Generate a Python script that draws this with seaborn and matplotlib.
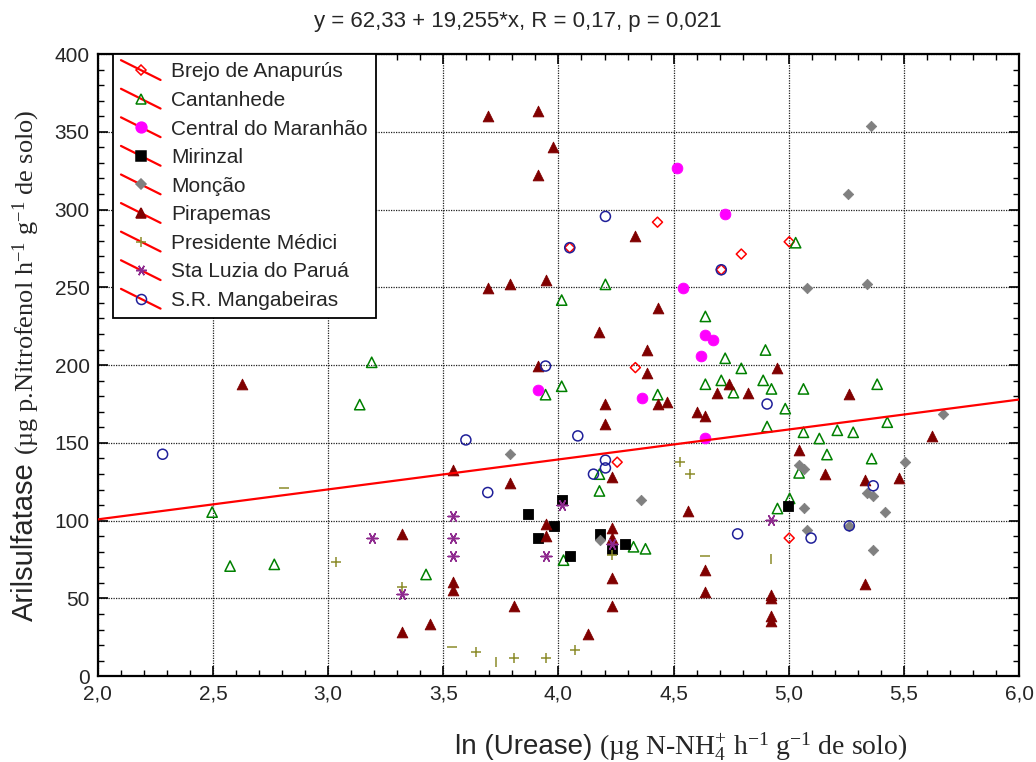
import numpy as np
import pandas as pd
import matplotlib
matplotlib.use("Agg")
import matplotlib.pyplot as plt
from matplotlib import font_manager
from matplotlib.lines import Line2D
from matplotlib.legend_handler import HandlerBase
from matplotlib.ticker import MultipleLocator, FuncFormatter
import seaborn as sns

# ---------------- data: ln(urease) vs arylsulfatase, by municipality ----------------
brejo_x = [4.049, 4.430, 4.334, 4.255, 4.707, 4.794, 5.002, 5.002]
brejo_y = [275.5, 291.9, 198.4, 137.6, 261.3, 271.4, 279.3, 88.8]

cantanhede_x = [2.496, 2.574, 2.766, 3.137, 3.189, 3.425, 3.944, 4.014, 4.014, 4.022,
                4.178, 4.178, 4.204, 4.326, 4.378, 4.431, 4.638, 4.638, 4.707, 4.724,
                4.760, 4.794, 4.889, 4.899, 4.906, 4.925, 4.951, 4.985, 5.004, 5.030,
                5.045, 5.064, 5.064, 5.133, 5.166, 5.211, 5.280, 5.360, 5.384, 5.428]
cantanhede_y = [105.5, 70.8, 71.9, 174.6, 201.8, 65.4, 181.0, 241.8, 186.4, 74.6,
                129.9, 119.1, 251.9, 83.2, 81.9, 181.0, 231.3, 187.7, 190.2, 204.4,
                182.3, 197.9, 190.2, 209.7, 160.5, 184.7, 107.8, 172.0, 114.3, 278.7,
                130.7, 184.7, 156.8, 152.8, 142.5, 158.1, 156.8, 139.9, 187.7, 163.3]

central_x = [3.910, 4.363, 4.516, 4.543, 4.620, 4.638, 4.672, 4.638, 4.724]
central_y = [184.2, 178.9, 326.6, 249.7, 205.8, 219.1, 216.4, 153.4, 297.1]

mirinzal_x = [3.866, 3.910, 3.980, 4.014, 4.049, 4.180, 4.232, 4.291, 4.996]
mirinzal_y = [104.2, 88.8, 96.7, 113.2, 77.4, 91.5, 81.5, 84.9, 109.3]

moncao_x = [3.789, 4.180, 4.360, 5.045, 5.065, 5.065, 5.080, 5.080, 5.256, 5.263,
            5.341, 5.342, 5.358, 5.367, 5.367, 5.418, 5.506, 5.670]
moncao_y = [142.7, 87.5, 113.2, 135.6, 132.9, 108.0, 249.5, 94.1, 309.9, 96.7,
            117.5, 252.1, 353.8, 115.7, 81.3, 105.7, 137.6, 168.8]

pirapemas_x = [2.626, 3.319, 3.319, 3.442, 3.543, 3.543, 3.543, 3.693, 3.693, 3.789,
               3.789, 3.806, 3.910, 3.910, 3.910, 3.944, 3.944, 3.944, 3.977, 4.128,
               4.177, 4.204, 4.204, 4.232, 4.232, 4.232, 4.232, 4.232, 4.334, 4.385,
               4.385, 4.431, 4.431, 4.473, 4.562, 4.601, 4.638, 4.638, 4.638, 4.690,
               4.742, 4.821, 4.925, 4.925, 4.925, 4.925, 4.951, 5.045, 5.159, 5.263,
               5.332, 5.331, 5.478, 5.620]
pirapemas_y = [187.7, 91.3, 28.6, 33.3, 132.4, 60.3, 55.4, 360.0, 249.8, 252.3,
               124.5, 45.1, 363.6, 322.5, 199.4, 254.7, 97.8, 90.2, 340.3, 27.1,
               221.5, 175.3, 162.4, 128.1, 95.4, 89.0, 62.9, 45.1, 282.7, 210.0,
               195.2, 236.7, 174.8, 176.1, 106.3, 169.9, 167.1, 68.2, 54.3, 182.3,
               187.7, 182.3, 52.0, 50.0, 38.7, 35.7, 198.4, 145.3, 129.9, 181.2,
               126.0, 59.2, 127.3, 154.3]

presidente_x = [3.035, 3.319, 3.641, 3.806, 3.944, 4.074, 4.232, 4.526, 4.570]
presidente_y = [73.5, 57.1, 15.3, 11.9, 11.9, 16.8, 77.8, 137.8, 129.9]
# Presidente Médici points drawn as bare bars
presidente_dash_x = [2.809, 3.536, 4.638]
presidente_dash_y = [121.1, 18.6, 77.4]
presidente_bar_x = [3.728, 4.924]
presidente_bar_y = [9.3, 75.1]

staluzia_x = [3.189, 3.319, 3.543, 3.543, 3.543, 3.944, 4.014, 4.232, 4.924]
staluzia_y = [89.0, 52.8, 103.1, 89.0, 77.2, 77.2, 110.0, 84.9, 100.3]

mangabeiras_x = [2.281, 3.598, 3.693, 3.944, 4.049, 4.084, 4.152, 4.204, 4.204, 4.204,
                 4.707, 4.778, 4.906, 5.097, 5.263, 5.367]
mangabeiras_y = [142.7, 151.9, 118.1, 199.4, 275.5, 154.5, 129.9, 295.6, 138.9, 133.9,
                 261.3, 91.5, 175.0, 88.8, 96.7, 122.4]

# linear fit reported in the title
intercept = 62.33
slope = 19.255
r_value = 0.17
p_value = 0.021

x_ticks_step, y_ticks_step = 0.5, 50

# ---------------- styling ----------------
sns.set_theme(style="white")
installed = {f.name for f in font_manager.fontManager.ttflist}
NARROW = "Liberation Sans Narrow" if "Liberation Sans Narrow" in installed else "Liberation Sans"
SANS = "Liberation Sans"
SERIF = "Liberation Serif"
plt.rcParams["font.family"] = [NARROW, "DejaVu Sans"]
plt.rcParams["mathtext.fontset"] = "custom"
plt.rcParams["mathtext.rm"] = SERIF
plt.rcParams["mathtext.it"] = SERIF + ":italic"
plt.rcParams["mathtext.bf"] = SERIF + ":bold"

groups = [
    ("Brejo de Anapurús", brejo_x, brejo_y, "D", "#ff0000", False, 26),
    ("Cantanhede", cantanhede_x, cantanhede_y, "^", "#008000", False, 55),
    ("Central do Maranhão", central_x, central_y, "o", "#ff00ff", True, 60),
    ("Mirinzal", mirinzal_x, mirinzal_y, "s", "#000000", True, 52),
    ("Monção", moncao_x, moncao_y, "D", "#808080", True, 28),
    ("Pirapemas", pirapemas_x, pirapemas_y, "^", "#800000", True, 60),
    ("Presidente Médici", presidente_x, presidente_y, "+", "#8c8c2a", True, 60),
    ("Sta Luzia do Paruá", staluzia_x, staluzia_y, (6, 2, 90), "#8e2a8e", True, 60),
    ("S.R. Mangabeiras", mangabeiras_x, mangabeiras_y, "o", "#1f1f99", False, 52),
]

fig = plt.figure(figsize=(10.36, 7.62), dpi=100)
ax = fig.add_axes([0.0945, 0.1126, 0.8891, 0.8165])

for name, xs, ys, mk, col, filled, size in groups:
    df = pd.DataFrame({"x": xs, "y": ys})
    sns.scatterplot(data=df, x="x", y="y", ax=ax, marker=mk, s=size,
                    color=col, linewidth=1.1, zorder=3, legend=False)
    coll = ax.collections[-1]
    if mk in ("+",) or isinstance(mk, tuple):
        coll.set_facecolor(col)
        coll.set_edgecolor(col)
    elif filled:
        coll.set_facecolor(col)
        coll.set_edgecolor(col)
        coll.set_linewidth(0.6)
    else:
        coll.set_facecolor("none")
        coll.set_edgecolor(col)

for xs, ys, mk in ((presidente_dash_x, presidente_dash_y, "_"),
                   (presidente_bar_x, presidente_bar_y, "|")):
    sns.scatterplot(x=xs, y=ys, ax=ax, marker=mk, s=60, color="#8c8c2a",
                    linewidth=1.1, zorder=3, legend=False)
    ax.collections[-1].set_edgecolor("#8c8c2a")

# regression line across the x range
xline = np.array([2.0, 6.0])
sns.lineplot(x=xline, y=intercept + slope * xline, ax=ax, color="red",
             linewidth=1.6, zorder=4)

# ---------------- axes ----------------
ax.set_xlim(2.0, 6.0)
ax.set_ylim(0, 400)
ax.xaxis.set_major_locator(MultipleLocator(x_ticks_step))
ax.xaxis.set_minor_locator(MultipleLocator(0.1))
ax.yaxis.set_major_locator(MultipleLocator(y_ticks_step))
ax.yaxis.set_minor_locator(MultipleLocator(10))
ax.xaxis.set_major_formatter(FuncFormatter(lambda v, p: f"{v:.1f}".replace(".", ",")))
ax.yaxis.set_major_formatter(FuncFormatter(lambda v, p: f"{v:.0f}"))
ax.grid(which="major", color="#202020", linestyle=(0, (1, 1)), linewidth=0.9)
ax.set_axisbelow(True)
ax.tick_params(which="both", top=True, right=True, bottom=True, left=True,
               direction="in", color="black")
ax.tick_params(which="major", length=7, width=1.2, labelsize=15, pad=6)
ax.tick_params(which="minor", length=4, width=1.0)
for sp in ax.spines.values():
    sp.set_color("black")
    sp.set_linewidth(1.6)
ax.set_xlabel("")
ax.set_ylabel("")

fig.suptitle(f"y = {intercept:.2f} + {slope:.3f}*x, R = {r_value:.2f}, p = {p_value:.3f}".replace(".", ","),
             y=0.985, fontsize=16, family=[NARROW, "DejaVu Sans"])


# ---------------- legend with regression-line glyph ----------------
class DiagonalHandler(HandlerBase):
    def create_artists(self, legend, orig, xdescent, ydescent, width, height,
                       fontsize, trans):
        cy = height / 2 - ydescent
        x0 = -xdescent
        line = Line2D([x0, x0 + width], [cy + width * 0.25, cy - width * 0.25],
                      color="red", linewidth=1.6, transform=trans)
        mk = Line2D([x0 + width / 2], [cy], linestyle="none",
                    marker=orig.get_marker(), markersize=orig.get_markersize(),
                    markerfacecolor=orig.get_markerfacecolor(),
                    markeredgecolor=orig.get_markeredgecolor(),
                    markeredgewidth=orig.get_markeredgewidth(), transform=trans)
        return [line, mk]


handles, labels = [], []
for name, xs, ys, mk, col, filled, size in groups:
    open_mk = not filled
    h = Line2D([], [], linestyle="none", marker=mk, markersize=np.sqrt(size),
               markerfacecolor="none" if open_mk else col, markeredgecolor=col,
               markeredgewidth=1.1)
    handles.append(h)
    labels.append(name)

leg = ax.legend(handles, labels, loc="upper left", bbox_to_anchor=(0.016, 1.0),
                borderaxespad=0, frameon=True, fancybox=False, framealpha=1,
                edgecolor="black", prop={"family": [SANS, "DejaVu Sans"], "size": 15},
                handlelength=1.9, handletextpad=0.5, labelspacing=0.46,
                borderpad=0.4, handler_map={Line2D: DiagonalHandler()})
leg.get_frame().set_linewidth(1.3)
leg.set_zorder(5)

# ---------------- axis titles (sans name + serif units) ----------------
fig.canvas.draw()
renderer = fig.canvas.get_renderer()
W, H = fig.bbox.width, fig.bbox.height

xa = fig.text(455 / W, 1 - 754 / H, "ln (Urease)", family=[NARROW, "DejaVu Sans"],
              fontsize=20, ha="left", va="baseline")
bb = xa.get_window_extent(renderer)
fig.text((bb.x1 + 7) / W, 1 - 754 / H,
         "(µg N-NH$_4^{+}$ h$^{-1}$ g$^{-1}$ de solo)",
         family=[SERIF, "DejaVu Serif"], fontsize=20, ha="left", va="baseline")

ya = fig.text(33 / W, 1 - 621 / H, "Arilsulfatase", family=[SANS, "DejaVu Sans"],
              fontsize=21, rotation=90, rotation_mode="anchor", ha="left", va="baseline")
bb = ya.get_window_extent(renderer)
fig.text(33 / W, (bb.y1 + 7) / H,
         "(µg p.Nitrofenol h$^{-1}$ g$^{-1}$ de solo)",
         family=[SERIF, "DejaVu Serif"], fontsize=19, rotation=90,
         rotation_mode="anchor", ha="left", va="baseline")

fig.savefig("out.png", dpi=100)
